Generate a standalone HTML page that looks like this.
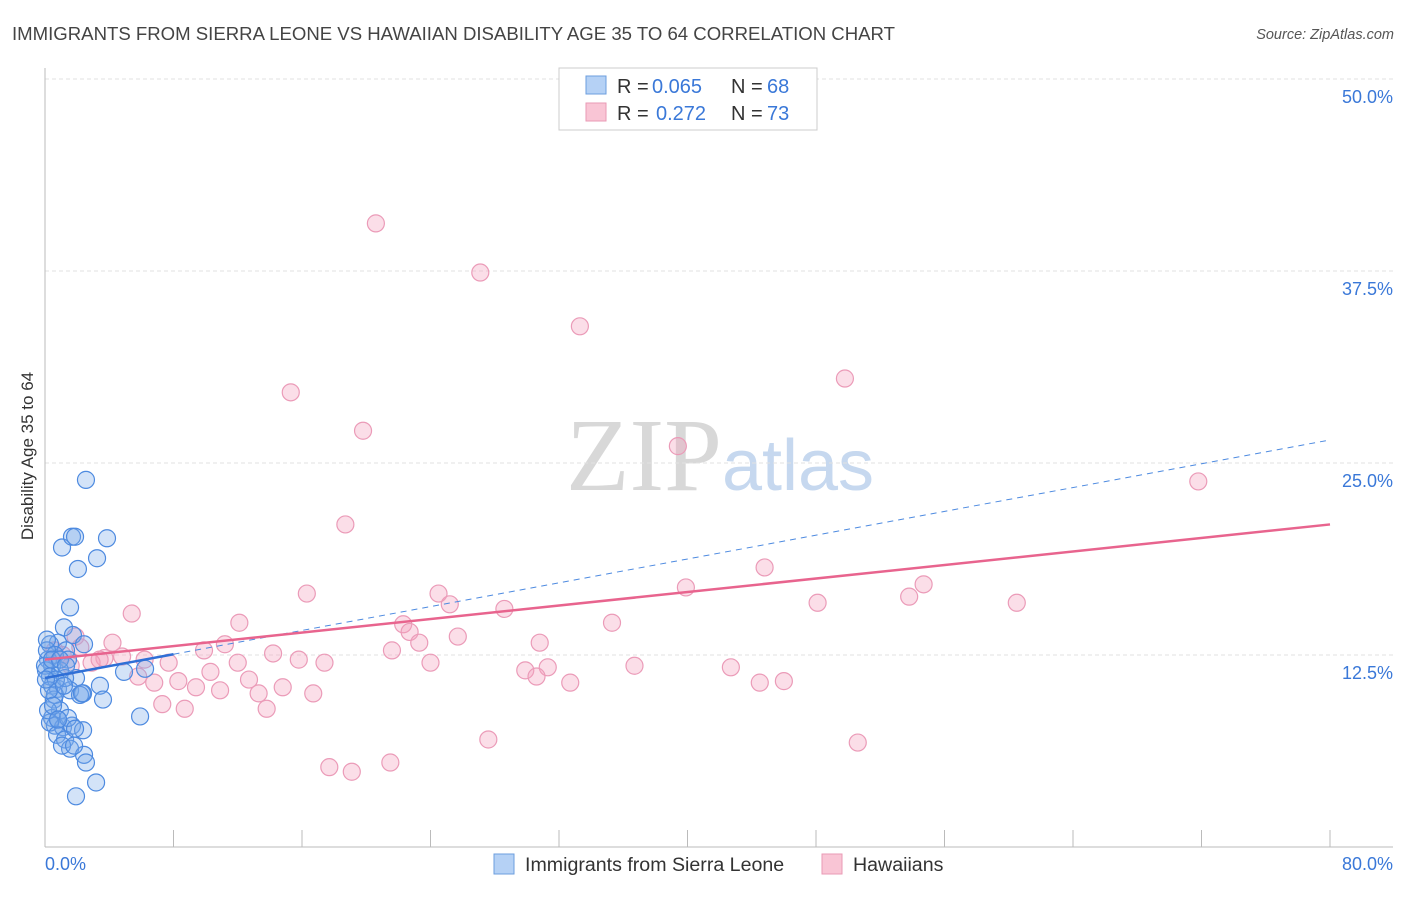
<!DOCTYPE html>
<html><head><meta charset="utf-8"><style>
body{margin:0;background:#fff;font-family:"Liberation Sans",sans-serif;}
svg text{font-family:"Liberation Sans",sans-serif;}
</style></head><body>
<svg id="chart" width="1406" height="892" xmlns="http://www.w3.org/2000/svg">
<text x="12" y="40" font-size="18.6" fill="#444" textLength="883">IMMIGRANTS FROM SIERRA LEONE VS HAWAIIAN DISABILITY AGE 35 TO 64 CORRELATION CHART</text>
<text x="1394" y="39" font-size="14.5" fill="#555" text-anchor="end" font-style="italic">Source: ZipAtlas.com</text>
<text x="720" y="490" font-size="104" text-anchor="middle"><tspan fill="#d8d8d8" font-family="Liberation Serif">ZIP</tspan><tspan fill="#c6d8ef" font-size="72">atlas</tspan></text>
<text transform="translate(33,456) rotate(-90)" font-size="17" fill="#333" text-anchor="middle">Disability Age 35 to 64</text>
<g id="grid"></g>
<g id="axes"></g>
<g id="pts"></g>
<g id="trends"></g>
<g>
<rect x="559" y="68" width="258" height="62" fill="#fff" stroke="#ccc"/>
<rect x="586" y="76" width="20" height="18" fill="#b5d1f5" stroke="#6c9ede"/>
<rect x="586" y="103" width="20" height="18" fill="#f9c5d5" stroke="#e99ab5"/>
<text x="617" y="93" font-size="20" fill="#333">R =</text>
<text x="652" y="93" font-size="20" fill="#3a78d8">0.065</text>
<text x="731" y="93" font-size="20" fill="#333">N =</text>
<text x="767" y="93" font-size="20" fill="#3a78d8">68</text>
<text x="617" y="120" font-size="20" fill="#333">R =</text>
<text x="656" y="120" font-size="20" fill="#3a78d8">0.272</text>
<text x="731" y="120" font-size="20" fill="#333">N =</text>
<text x="767" y="120" font-size="20" fill="#3a78d8">73</text>
</g>
<g>
<rect x="494" y="854" width="20" height="20" fill="#b5d1f5" stroke="#6c9ede"/>
<text x="525" y="871" font-size="19.6" fill="#333">Immigrants from Sierra Leone</text>
<rect x="822" y="854" width="20" height="20" fill="#f9c5d5" stroke="#e99ab5"/>
<text x="853" y="871" font-size="19.6" fill="#333">Hawaiians</text>
</g>
</svg>
<script>
const yTicks=[12.5,25.0,37.5,50.0];
const yTickLabels=["12.5%","25.0%","37.5%","50.0%"];
const xTickLabels=["0.0%","80.0%"];
const blueX=[2.55,1.06,1.68,1.87,3.86,3.24,2.05,1.56,1.18,0.81,0.31,1.74,2.43,1.31,0.62,0.19,0.44,1.43,0.06,0.93,1.93,0.44,0.81,1.56,2.37,3.42,4.92,6.23,2.18,0.56,0.93,0.44,0.81,0.62,1.12,1.68,2.37,0.31,0.75,1.25,1.56,2.43,2.55,3.18,1.93,5.92,3.61,0.12,0.0,0.31,1.25,0.62,0.19,1.06,2.3,0.12,0.68,1.43,1.87,0.44,0.93,1.31,0.25,0.5,1.81,0.81,0.06,1.18];
const blueY=[23.9,19.5,20.2,20.2,20.1,18.8,18.1,15.6,14.3,13.3,13.2,13.8,13.2,12.8,12.5,12.2,11.8,12.2,11.5,11.5,11.0,10.5,10.3,10.2,10.0,10.5,11.4,11.6,9.9,9.6,8.9,8.4,8.3,7.9,7.8,7.9,7.6,8.1,7.3,7.0,6.4,6.0,5.5,4.2,3.3,8.5,9.6,12.8,11.8,11.1,11.0,9.9,8.9,6.6,10.0,13.5,10.9,8.4,7.7,12.2,12.2,11.8,10.2,9.2,6.6,8.3,10.9,10.5];
const pinkX=[20.6,27.1,33.3,15.3,49.8,19.8,39.4,71.8,18.7,44.8,39.9,16.3,24.5,54.7,25.2,53.8,60.5,48.1,28.6,5.4,12.1,22.3,22.7,35.3,25.7,30.8,23.3,4.2,11.2,1.9,14.2,21.6,9.9,3.7,4.8,6.2,15.8,17.4,24.0,31.3,36.7,7.7,12.0,2.9,29.9,42.7,30.6,46.0,44.5,10.3,12.7,32.7,6.8,8.3,9.4,10.9,13.3,14.8,16.7,7.3,8.7,13.8,5.8,27.6,50.6,17.7,19.1,21.5,0.6,1.1,1.6,2.2,3.4];
const pinkY=[40.6,37.4,33.9,29.6,30.5,27.1,26.1,23.8,21.0,18.2,16.9,16.5,16.5,17.1,15.8,16.3,15.9,15.9,15.5,15.2,14.6,14.5,14.0,14.6,13.7,13.3,13.3,13.3,13.2,13.7,12.6,12.8,12.8,12.3,12.4,12.2,12.2,12.0,12.0,11.7,11.8,12.0,12.0,12.0,11.5,11.7,11.1,10.8,10.7,11.4,10.9,10.7,10.7,10.8,10.4,10.2,10.0,10.4,10.0,9.3,9.0,9.0,11.1,7.0,6.8,5.2,4.9,5.5,12.8,12.5,11.8,13.0,12.2];
const blueTrend=[11.0,26.5];
const pinkTrend=[12.2,21.0];
const NS="http://www.w3.org/2000/svg";
const X0=45,X1=1330,Y0=847,YPER=15.36;
function sx(v){return X0+(X1-X0)*v/80;}
function sy(v){return Y0-v*YPER;}
function mk(tag,attrs,parent){const e=document.createElementNS(NS,tag);for(const k in attrs)e.setAttribute(k,attrs[k]);parent.appendChild(e);return e;}
const grid=document.getElementById('grid'),axes=document.getElementById('axes');
yTicks.forEach((t,i)=>{
  const l=mk('line',{x1:45,x2:1393,y1:sy(t),y2:sy(t),stroke:'#e2e2e2','stroke-dasharray':'4,3'},grid);
  
  
  const tx=mk('text',{x:1393,y:sy(t)+24,'font-size':18,fill:'#3a78d8','text-anchor':'end'},grid);
  tx.textContent=yTickLabels[i];
  
  
});
const topg=mk('line',{x1:45,x2:1393,y1:79,y2:79,stroke:'#e2e2e2','stroke-dasharray':'4,3'},grid);


const ya=mk('line',{x1:45,x2:45,y1:68,y2:847,stroke:'#bbb'},axes);


const xa=mk('line',{x1:45,x2:1393,y1:847,y2:847,stroke:'#bbb'},axes);


for(let i=1;i<=10;i++){
  const tk=mk('line',{x1:sx(i*8),x2:sx(i*8),y1:830,y2:847,stroke:'#bbb'},axes);
  
  
}
const xl0=mk('text',{x:45,y:870,'font-size':18,fill:'#3a78d8'},axes);
xl0.textContent=xTickLabels[0];


const xl1=mk('text',{x:1393,y:870,'font-size':18,fill:'#3a78d8','text-anchor':'end'},axes);
xl1.textContent=xTickLabels[1];


const pts=document.getElementById('pts');
pinkX.forEach((x,i)=>{
  const c=mk('circle',{cx:sx(x),cy:sy(pinkY[i]),r:8.5,fill:'rgba(244,160,188,0.35)',stroke:'#eb9bb8','stroke-width':1.2},pts);
  
  
});
blueX.forEach((x,i)=>{
  const c=mk('circle',{cx:sx(x),cy:sy(blueY[i]),r:8.5,fill:'rgba(120,170,235,0.33)',stroke:'#4d8ae0','stroke-width':1.2},pts);
  
  
});
const tr=document.getElementById('trends');
function ty(tr2,x){return tr2[0]+(tr2[1]-tr2[0])*x/80;}
const bd=mk('line',{x1:sx(8),y1:sy(ty(blueTrend,8)),x2:sx(80),y2:sy(ty(blueTrend,80)),stroke:'#4d8ae0','stroke-width':1,'stroke-dasharray':'6,5'},tr);


const bs=mk('line',{x1:sx(0),y1:sy(ty(blueTrend,0)),x2:sx(8),y2:sy(ty(blueTrend,8)),stroke:'#2f6fd6','stroke-width':2.5},tr);


const ps=mk('line',{x1:sx(0),y1:sy(pinkTrend[0]),x2:sx(80),y2:sy(pinkTrend[1]),stroke:'#e8648e','stroke-width':2.5},tr);


</script>
</body></html>
